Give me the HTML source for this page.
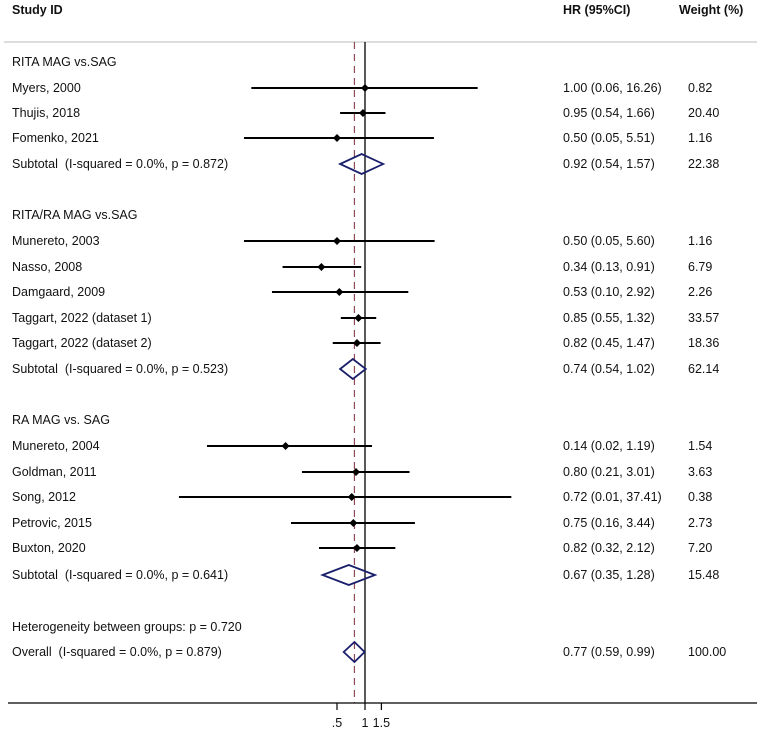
<!DOCTYPE html>
<html><head><meta charset="utf-8"><style>
body{margin:0;background:#fff;}
svg{display:block;font-family:"Liberation Sans",Arial,sans-serif;font-size:12.5px;fill:#111;}
text{white-space:pre;}
</style></head><body>
<svg id="chart" width="757" height="735" viewBox="0 0 757 735" xmlns="http://www.w3.org/2000/svg">
<g id="g"></g>
</svg>
<script>
const labels=["Myers, 2000","Thujis, 2018","Fomenko, 2021","Subtotal  (I-squared = 0.0%, p = 0.872)",
"Munereto, 2003","Nasso, 2008","Damgaard, 2009","Taggart, 2022 (dataset 1)","Taggart, 2022 (dataset 2)","Subtotal  (I-squared = 0.0%, p = 0.523)",
"Munereto, 2004","Goldman, 2011","Song, 2012","Petrovic, 2015","Buxton, 2020","Subtotal  (I-squared = 0.0%, p = 0.641)",
"Overall  (I-squared = 0.0%, p = 0.879)"];
const rowY=[88,113,138,164,241,267,292,318,343,369,446,472,497,523,548,575,652];
const hr=[1.00,0.95,0.50,0.92,0.50,0.34,0.53,0.85,0.82,0.74,0.14,0.80,0.72,0.75,0.82,0.67,0.77];
const lo=[0.06,0.54,0.05,0.54,0.05,0.13,0.10,0.55,0.45,0.54,0.02,0.21,0.01,0.16,0.32,0.35,0.59];
const hi=[16.26,1.66,5.51,1.57,5.60,0.91,2.92,1.32,1.47,1.02,1.19,3.01,37.41,3.44,2.12,1.28,0.99];
const weights=["0.82","20.40","1.16","22.38","1.16","6.79","2.26","33.57","18.36","62.14","1.54","3.63","0.38","2.73","7.20","15.48","100.00"];
const isPooled=[0,0,0,1,0,0,0,0,0,1,0,0,0,0,0,1,1];
const groups=["RITA MAG vs.SAG","RITA/RA MAG vs.SAG","RA MAG vs. SAG"];
const groupY=[62,215,420];
const ticks=[0.5,1,1.5];
const tickLabels=[".5","1","1.5"];
const overallHR=0.77;

const NS="http://www.w3.org/2000/svg";
const g=document.getElementById('g');
const x=v=>365+40.4*Math.log(v);
function mk(tag,attrs,text){const e=document.createElementNS(NS,tag);for(const k in attrs)e.setAttribute(k,attrs[k]);if(text!==undefined)e.textContent=text;g.appendChild(e);return e;}
const fmt=v=>v.toFixed(2);

let e;
e=mk('text',{x:12,y:14,'font-weight':'bold'},'Study ID');


e=mk('text',{x:563,y:14,'font-weight':'bold'},'HR (95%CI)');


e=mk('text',{x:679,y:14,'font-weight':'bold'},'Weight (%)');


e=mk('line',{x1:4,x2:757,y1:42,y2:42,stroke:'#bbb','stroke-width':1});



e=mk('line',{x1:x(1),x2:x(1),y1:42,y2:703,stroke:'#000','stroke-width':1.3});


e=mk('line',{x1:x(overallHR),x2:x(overallHR),y1:42,y2:703,stroke:'#8b4a55','stroke-width':1.2,'stroke-dasharray':'7,5'});



groups.forEach((t,i)=>{
 e=mk('text',{x:12,y:groupY[i]+4},t);
 
 
});
e=mk('text',{x:12,y:631},'Heterogeneity between groups: p = 0.720');



labels.forEach((t,i)=>{
 const y=rowY[i];
 e=mk('text',{x:12,y:y+4},t);
 
 
 e=mk('text',{x:563,y:y+4},fmt(hr[i])+' ('+fmt(lo[i])+', '+fmt(hi[i])+')');
 
 
 e=mk('text',{x:688,y:y+4},weights[i]);
 
 
 if(isPooled[i]){
  const h=10;
  e=mk('polygon',{points:`${x(lo[i])},${y} ${x(hr[i])},${y-h} ${x(hi[i])},${y} ${x(hr[i])},${y+h}`,fill:'none',stroke:'#1a1f6b','stroke-width':1.8});
  
  
 }else{
  e=mk('line',{x1:x(lo[i]),x2:x(hi[i]),y1:y,y2:y,stroke:'#000','stroke-width':2});
  
  
  const cx=x(hr[i]);
  e=mk('polygon',{points:`${cx-4},${y} ${cx},${y-4} ${cx+4},${y} ${cx},${y+4}`,fill:'#000'});
  
  
 }
});

e=mk('line',{x1:8,x2:757,y1:703,y2:703,stroke:'#000','stroke-width':1.3});


ticks.forEach((v,i)=>{
 e=mk('line',{x1:x(v),x2:x(v),y1:703,y2:710,stroke:'#000','stroke-width':1.2});
 
 
 e=mk('text',{x:x(v),y:727,'text-anchor':'middle'},tickLabels[i]);
 
 
});
</script>
</body></html>
